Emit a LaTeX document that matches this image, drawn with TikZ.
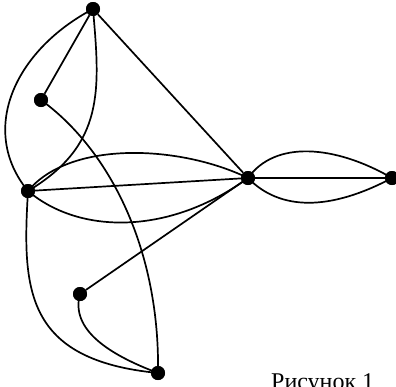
\documentclass[tikz,border=0pt]{standalone}
\usepackage{fontspec}
\setmainfont{Liberation Serif}
\begin{document}
\begin{tikzpicture}[x=1pt,y=-1pt,
  dot/.style={circle,fill=black,draw=none,inner sep=0pt,minimum size=14pt},
  edge/.style={line width=1.7pt,black},
  caption/.style={font=\fontsize{24}{27}\selectfont,inner sep=0pt,anchor=base west}]
\useasboundingbox (0,0) rectangle (396,386);
\node[dot] (A) at (93,9) {};
\node[dot] (B) at (41,100) {};
\node[dot] (C) at (28,191) {};
\node[dot] (D) at (248,178) {};
\node[dot] (E) at (392,178) {};
\node[dot] (F) at (80,294) {};
\node[dot] (G) at (158,373) {};
\node[caption] (cap) at (271,389) {Рисунок 1};
\draw[edge] (A) -- (B);
\draw[edge] (A) -- (D);
\draw[edge] (A.center) .. controls (15,50) and (-22,130) .. (C.center);
\draw[edge] (A.center) .. controls (100,90) and (105,145) .. (C.center);
\draw[edge] (B.center) .. controls (110,150) and (160,250) .. (G.center);
\draw[edge] (C) -- (D);
\draw[edge] (C.center) .. controls (70,140) and (180,145) .. (D.center);
\draw[edge] (C.center) .. controls (80,235) and (170,235) .. (D.center);
\draw[edge] (C.center) .. controls (22,290) and (25,360) .. (G.center);
\draw[edge] (F.center) .. controls (70,330) and (110,355) .. (G.center);
\draw[edge] (F) -- (D);
\draw[edge] (D) -- (E);
\draw[edge] (D.center) .. controls (275,140) and (335,145) .. (E.center);
\draw[edge] (D.center) .. controls (280,211) and (330,211) .. (E.center);
\foreach \n in {A,B,C,D,E,F,G} \node[dot] at (\n) {};
\end{tikzpicture}
\end{document}
